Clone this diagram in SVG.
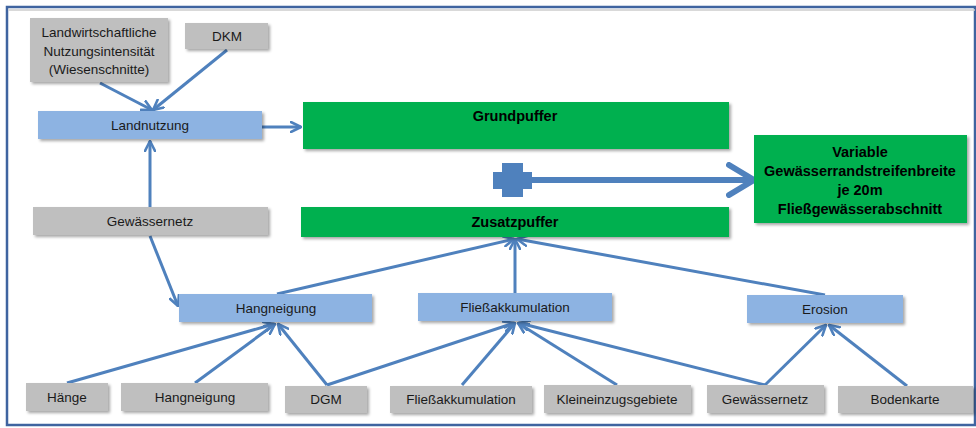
<svg xmlns="http://www.w3.org/2000/svg" width="976" height="428" viewBox="0 0 976 428">
<defs>
<filter id="sh" x="-10%" y="-20%" width="120%" height="150%">
<feDropShadow dx="2" dy="2" stdDeviation="1.5" flood-color="#000" flood-opacity="0.35"/>
</filter>
<marker id="ah" viewBox="0 0 12 12" refX="11" refY="6" markerWidth="12" markerHeight="12" markerUnits="userSpaceOnUse" orient="auto">
<path d="M1,1 L11,6 L1,11" fill="none" stroke="#4F81BD" stroke-width="2.6" stroke-linecap="round" stroke-linejoin="round"/>
</marker>
<marker id="big" viewBox="0 0 30 36" refX="28" refY="18" markerWidth="30" markerHeight="36" markerUnits="userSpaceOnUse" orient="auto">
<path d="M3,3 L28,18 L3,33" fill="none" stroke="#4F81BD" stroke-width="6" stroke-linecap="round" stroke-linejoin="round"/>
</marker>
</defs>
<style>
.g{fill:#BFBFBF;filter:url(#sh)}
.b{fill:#8DB3E2;filter:url(#sh)}
.gr{fill:#00B050;filter:url(#sh)}
text{font-family:"Liberation Sans",Arial,sans-serif;font-size:13.5px;fill:#1a1a1a;text-anchor:middle}
.bold{font-weight:bold;fill:#000;font-size:14.5px}
.c{fill:none;stroke:#4F81BD;stroke-width:3;marker-end:url(#ah)}
</style>
<rect x="7" y="7" width="968" height="418" fill="#fff" stroke="#3F64A0" stroke-width="2.5"/>
<line x1="8.5" y1="10" x2="975" y2="10" stroke="#ccc" stroke-width="1.5"/>

<g id="connectors">
<line class="c" x1="100" y1="83" x2="152" y2="110"/>
<line class="c" x1="227" y1="50" x2="153" y2="110"/>
<line class="c" x1="262" y1="127" x2="301" y2="127"/>
<line class="c" x1="150" y1="207" x2="150" y2="141"/>
<line class="c" x1="150" y1="236" x2="178" y2="306"/>
<line class="c" x1="277" y1="294" x2="514" y2="239"/>
<line class="c" x1="515" y1="293" x2="515" y2="239"/>
<line class="c" x1="825" y1="295" x2="517" y2="239"/>
<line class="c" x1="67" y1="383" x2="274" y2="324"/>
<line class="c" x1="195" y1="383" x2="275" y2="324"/>
<line class="c" x1="327" y1="385" x2="278" y2="324"/>
<line class="c" x1="327" y1="385" x2="514" y2="323"/>
<line class="c" x1="462" y1="385" x2="515" y2="323"/>
<line class="c" x1="617" y1="385" x2="518" y2="323"/>
<line class="c" x1="765" y1="385" x2="519" y2="323"/>
<line class="c" x1="765" y1="385" x2="826" y2="325"/>
<line class="c" x1="907" y1="386" x2="829" y2="325"/>
<line x1="530" y1="180" x2="754" y2="180" fill="none" stroke="#4F81BD" stroke-width="6" marker-end="url(#big)"/>
<path id="plus" d="M502,163 H523 V172 H532 V189 H523 V197 H502 V189 H493 V172 H502 Z" fill="#4F81BD"/>
</g>

<g id="n-landw"><rect class="g" x="30" y="18" width="138" height="64"/>
<text x="99" y="37">Landwirtschaftliche</text><text x="99" y="56">Nutzungsintensität</text><text x="99" y="74">(Wiesenschnitte)</text></g>
<g id="n-dkm"><rect class="g" x="185" y="23" width="83" height="26"/><text x="227" y="41">DKM</text></g>
<g id="n-landnutzung"><rect class="b" x="38" y="111" width="224" height="28"/><text x="150" y="130">Landnutzung</text></g>
<g id="n-grundpuffer"><rect class="gr" x="303" y="102" width="426" height="47"/><text class="bold" x="515" y="121">Grundpuffer</text></g>
<g id="n-zusatzpuffer"><rect class="gr" x="301" y="207" width="428" height="30"/><text class="bold" x="515" y="227">Zusatzpuffer</text></g>
<g id="n-variable"><rect class="gr" x="754" y="135" width="213" height="88"/>
<text class="bold" x="860" y="157">Variable</text><text class="bold" x="860" y="176">Gewässerrandstreifenbreite</text><text class="bold" x="860" y="195">je 20m</text><text class="bold" x="860" y="214">Fließgewässerabschnitt</text></g>
<g id="n-gewaesser1"><rect class="g" x="33" y="207" width="235" height="28"/><text x="150" y="226">Gewässernetz</text></g>
<g id="n-hangneigung"><rect class="b" x="179" y="294" width="193" height="28"/><text x="276" y="313">Hangneigung</text></g>
<g id="n-fliess"><rect class="b" x="418" y="293" width="194" height="28"/><text x="515" y="312">Fließakkumulation</text></g>
<g id="n-erosion"><rect class="b" x="747" y="295" width="156" height="28"/><text x="825" y="314">Erosion</text></g>
<g id="n-haenge"><rect class="g" x="26" y="383" width="82" height="28"/><text x="67" y="402">Hänge</text></g>
<g id="n-hangneigung2"><rect class="g" x="121" y="383" width="147" height="28"/><text x="195" y="402">Hangneigung</text></g>
<g id="n-dgm"><rect class="g" x="285" y="386" width="82" height="27"/><text x="326" y="404">DGM</text></g>
<g id="n-fliess2"><rect class="g" x="390" y="386" width="142" height="27"/><text x="461" y="404">Fließakkumulation</text></g>
<g id="n-klein"><rect class="g" x="544" y="385" width="147" height="28"/><text x="617" y="404">Kleineinzugsgebiete</text></g>
<g id="n-gewaesser2"><rect class="g" x="707" y="385" width="117" height="28"/><text x="765" y="404">Gewässernetz</text></g>
<g id="n-boden"><rect class="g" x="838" y="386" width="135" height="27"/><text x="905" y="404">Bodenkarte</text></g>
</svg>
